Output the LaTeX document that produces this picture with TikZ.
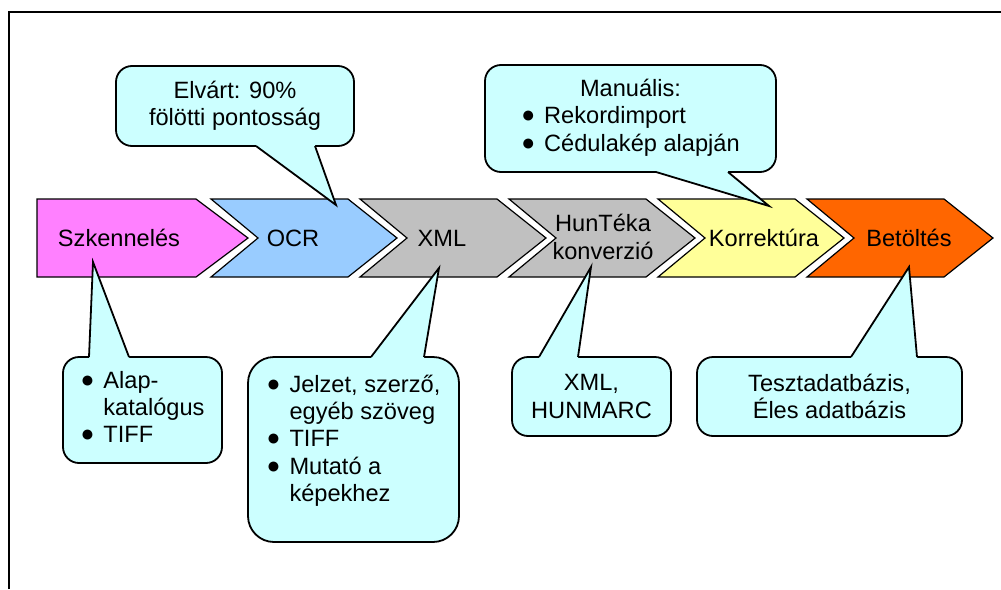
\documentclass[tikz,border=0pt]{standalone}
\usepackage{fontspec}
\setmainfont{Liberation Sans}
\usepackage{tikz}
\definecolor{szkpink}{HTML}{FF80FF}
\definecolor{ocrblue}{HTML}{99CCFF}
\definecolor{xmlgray}{HTML}{C0C0C0}
\definecolor{koryellow}{HTML}{FFFF99}
\definecolor{betorange}{HTML}{FF6600}
\definecolor{callcyan}{HTML}{CCFFFF}
\newcommand{\blt}{\raisebox{1pt}{\fontsize{23}{23}\selectfont ●}}

\begin{document}
\begin{tikzpicture}[x = 1pt, y = -1pt,
        font = \fontsize{23.6}{27.3}\selectfont,
        chev/.style = {draw = black, line width = 1.2, line join = miter},
        callbox/.style = {draw = black, fill = callcyan, line width = 1.8, rounded corners = 16, inner sep = 0, align = center},
        wedge/.style = {fill = callcyan},
        wedgeline/.style = {draw = black, line width = 1.8, line join = miter}]
        \useasboundingbox (0, 0) rectangle (1001, 589);
        \draw[line width = 2] (9, 589) -- (9, 12) -- (1001, 12);
        % the steps
        \filldraw[chev, fill = szkpink] (37, 199) -- (196, 199) -- (248, 238) -- (196, 277) -- (37, 277) -- cycle;
        \foreach \col [count = \i from 0] in {ocrblue, xmlgray, xmlgray, koryellow, betorange}
            {
                \filldraw[chev, fill = \col] ({211 + 149*\i}, 199) -- ++(137, 0) -- ++(49, 39) -- ++(-49, 39) -- ++(-137, 0) -- ++(47, -39) -- cycle;
            }
        \node (szk) at (119, 238) {Szkennelés};
        \node (ocr) at (293, 238) {OCR};
        \node (xml) at (442, 238) {XML};
        \node[align = center] (hun) at (603, 237) {HunTéka\\konverzió};
        \node (kor) at (764, 238) {Korrektúra};
        \node (bet) at (909, 238) {Betöltés};
        % callouts
        \node[callbox, minimum width = 238, minimum height = 80] (elv) at (235, 106) {Elvárt: 90\%\\fölötti pontosság};
        \node[callbox, minimum width = 291, minimum height = 107] (man) at (630.5, 118.5)
            {\begin{tabular}{@{}l@{\hspace{9pt}}l@{}}\multicolumn{2}{c}{Manuális:}\\ \blt & Rekordimport\\ \blt & Cédulakép alapján\end{tabular}};
        \node[callbox, minimum width = 159, minimum height = 106] (alap) at (142.5, 410)
            {\begin{tabular}{@{}l@{\hspace{9pt}}l@{}}\blt & Alap-\\ & katalógus\\ \blt & TIFF\end{tabular}};
        \node[callbox, minimum width = 211, minimum height = 185, rounded corners = 26] (jel) at (353.5, 449.5)
            {\begin{tabular}{@{}l@{\hspace{9pt}}l@{}}\blt & Jelzet, szerző,\\ & egyéb szöveg\\ \blt & TIFF\\ \blt & Mutató a\\ & képekhez\\[16pt]\end{tabular}};
        \node[callbox, minimum width = 159, minimum height = 79] (form) at (591.5, 396.5) {XML,\\HUNMARC};
        \node[callbox, minimum width = 265, minimum height = 79] (adat) at (829.5, 396.5) {Tesztadatbázis,\\Éles adatbázis};
        \coordinate (elvtip) at (336, 205);
        \coordinate (mantip) at (769, 206);
        \coordinate (szktip) at (93, 262);
        \coordinate (xmltip) at (439, 268);
        \coordinate (huntip) at (591, 267);
        \coordinate (bettip) at (909, 267);
        \foreach \ba/\bb/\e/\d/\tip in {256/315/146/-2/elvtip, 656/728/172/-2/mantip, 89/129/357/2/szktip, 371/424/357/2/xmltip, 539/578/357/2/huntip, 851/917/357/2/bettip}
            {
                \fill[wedge] (\ba, \e + \d) -- (\ba, \e) -- (\tip) -- (\bb, \e) -- (\bb, \e + \d) -- cycle;
                \draw[wedgeline] (\ba, \e) -- (\tip) -- (\bb, \e);
            }
    \end{tikzpicture}
\end{document}
